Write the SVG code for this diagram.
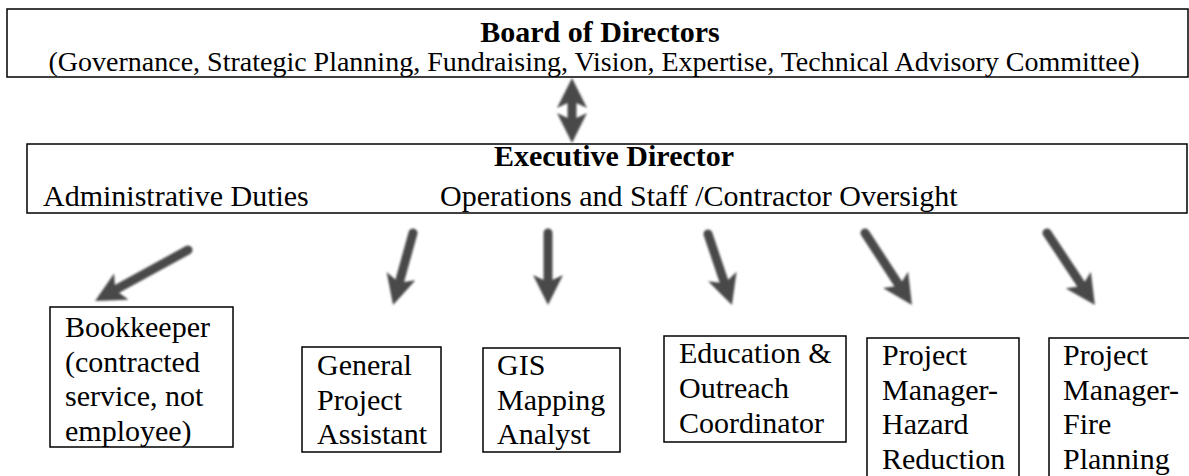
<svg xmlns="http://www.w3.org/2000/svg" width="1189" height="476" viewBox="0 0 1189 476">
<style>
  text { font-family: "Liberation Serif", "Times New Roman", serif; fill: #000; }
  .t { font-size: 30px; }
  .b { font-size: 30px; font-weight: bold; }
  .s { font-size: 28px; }
  .box { fill: #fff; stroke: #000; stroke-width: 1.5; }
  .arr { stroke: #4a4a4a; stroke-width: 9; fill: none; stroke-linecap: round; }
</style>
<defs>
  <filter id="soft" filterUnits="userSpaceOnUse" x="0" y="0" width="1189" height="476">
    <feGaussianBlur stdDeviation="0.8"/>
  </filter>
  <marker id="head" markerUnits="userSpaceOnUse" viewBox="0 0 30 30" markerWidth="30" markerHeight="30" refX="7" refY="15" orient="auto-start-reverse">
    <path d="M0,0 L30,15 L0,30 L7,15 z" fill="#4a4a4a"/>
  </marker>
</defs>
<rect width="1189" height="476" fill="#fff"/>

<g id="connectors" filter="url(#soft)">
  <line class="arr" x1="572" y1="101" x2="572" y2="120" marker-start="url(#head)" marker-end="url(#head)"/>
  <line class="arr" x1="188" y1="250" x2="115.2" y2="289.9" marker-end="url(#head)"/>
  <line class="arr" x1="413" y1="233" x2="399.2" y2="282.8" marker-end="url(#head)"/>
  <line class="arr" x1="548" y1="233" x2="548" y2="282" marker-end="url(#head)"/>
  <line class="arr" x1="708" y1="234" x2="724.6" y2="283.2" marker-end="url(#head)"/>
  <line class="arr" x1="865" y1="233" x2="899.4" y2="285.7" marker-end="url(#head)"/>
  <line class="arr" x1="1047" y1="233" x2="1082.2" y2="285.9" marker-end="url(#head)"/>
</g>

<g id="board">
  <rect class="box" x="7" y="9" width="1181" height="68"/>
  <text class="b" x="600" y="42" text-anchor="middle">Board of Directors</text>
  <text class="s" x="594" y="71" text-anchor="middle">(Governance, Strategic Planning, Fundraising, Vision, Expertise, Technical Advisory Committee)</text>
</g>

<g id="executive">
  <rect class="box" x="27" y="144" width="1160" height="69"/>
  <text class="b" x="614" y="166" text-anchor="middle">Executive Director</text>
  <text class="t" x="43" y="206">Administrative Duties</text>
  <text class="t" x="440" y="206">Operations and Staff /Contractor Oversight</text>
</g>

<g id="bookkeeper">
  <rect class="box" x="50" y="307" width="183" height="140"/>
  <text class="t" x="65" y="337">Bookkeeper</text>
  <text class="t" x="65" y="371.5">(contracted</text>
  <text class="t" x="65" y="406">service, not</text>
  <text class="t" x="65" y="440.5">employee)</text>
</g>

<g id="general">
  <rect class="box" x="302" y="347" width="139" height="105"/>
  <text class="t" x="317" y="375">General</text>
  <text class="t" x="317" y="409.5">Project</text>
  <text class="t" x="317" y="444">Assistant</text>
</g>

<g id="gis">
  <rect class="box" x="483" y="348" width="137" height="104"/>
  <text class="t" x="497" y="375">GIS</text>
  <text class="t" x="497" y="409.5">Mapping</text>
  <text class="t" x="497" y="444">Analyst</text>
</g>

<g id="education">
  <rect class="box" x="664" y="336" width="182" height="106"/>
  <text class="t" x="679" y="363">Education &amp;</text>
  <text class="t" x="679" y="398">Outreach</text>
  <text class="t" x="679" y="433">Coordinator</text>
</g>

<g id="hazard">
  <rect class="box" x="867" y="338" width="152" height="160"/>
  <text class="t" x="882" y="365">Project</text>
  <text class="t" x="882" y="399.5">Manager-</text>
  <text class="t" x="882" y="434">Hazard</text>
  <text class="t" x="882" y="468.5">Reduction</text>
</g>

<g id="fire">
  <rect class="box" x="1049" y="338" width="160" height="160"/>
  <text class="t" x="1063" y="365">Project</text>
  <text class="t" x="1063" y="399.5">Manager-</text>
  <text class="t" x="1063" y="434">Fire</text>
  <text class="t" x="1063" y="468.5">Planning</text>
</g>
</svg>
